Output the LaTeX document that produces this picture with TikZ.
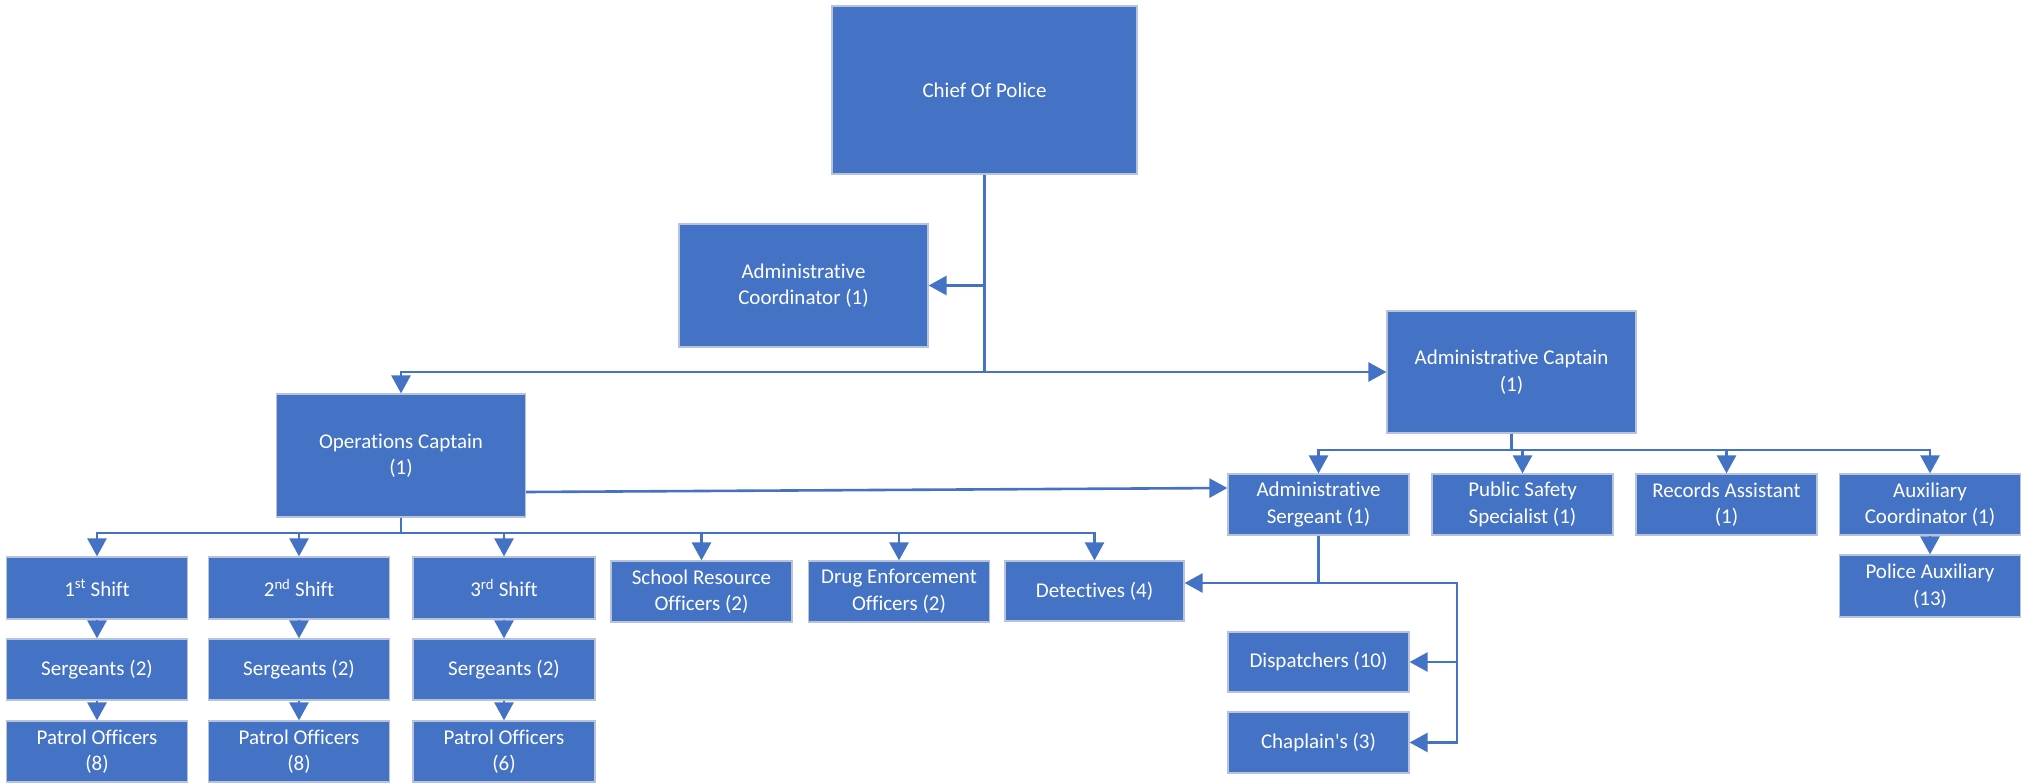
\documentclass[tikz,border=0pt]{standalone}
\usepackage{fontspec}
\setmainfont{Carlito}[Ligatures={TeXOff,NoCommon}]
\usetikzlibrary{arrows.meta,calc}
\definecolor{boxblue}{HTML}{4472C4}
\definecolor{boxedge}{HTML}{B7C3DA}

\begin{document}
\begin{tikzpicture}[x=1pt,y=-1pt,
  box/.style={fill=boxblue,draw=boxedge,line width=1.2pt,text=white,
    align=center,inner sep=0pt,font=\fontsize{21}{26.5}\selectfont},
  wh/.style 2 args={minimum width=#1pt,minimum height=#2pt},
  link/.style={draw=boxblue,line width=2.6pt,
    -{Triangle[length=18pt,width=19pt]}}]

\useasboundingbox (0,0) rectangle (2025,783);

% top levels
\node[box,wh={305}{168}] (chief)    at (984.5,90)   {Chief Of Police};
\node[box,wh={249}{123}] (admcoord) at (803.5,285.5){Administrative\\Coordinator (1)};
\node[box,wh={249}{122}] (admcap)   at (1511.5,372) {Administrative Captain\\(1)};
\node[box,wh={249}{123}] (ops)      at (401,455.5)  {Operations Captain\\(1)};

% operations branch
\node[box,wh={181}{62}] (s1) at (97,588)  {1\textsuperscript{st} Shift};
\node[box,wh={181}{62}] (s2) at (299,588) {2\textsuperscript{nd} Shift};
\node[box,wh={182}{62}] (s3) at (504,588) {3\textsuperscript{rd} Shift};
\node[box,wh={181}{61}] (g1) at (97,669.5)  {Sergeants (2)};
\node[box,wh={181}{61}] (g2) at (299,669.5) {Sergeants (2)};
\node[box,wh={182}{61}] (g3) at (504,669.5) {Sergeants (2)};
\node[box,wh={181}{61}] (p1) at (97,751.5)  {Patrol Officers\\(8)};
\node[box,wh={181}{61}] (p2) at (299,751.5) {Patrol Officers\\(8)};
\node[box,wh={182}{61}] (p3) at (504,751.5) {Patrol Officers\\(6)};
\node[box,wh={181}{61}] (school) at (701.5,591.5) {School Resource\\Officers (2)};
\node[box,wh={181}{61}] (drug)   at (899,591.5)   {Drug Enforcement\\Officers (2)};
\node[box,wh={179}{60}] (det)    at (1094.5,591)  {Detectives (4)};

% administrative branch
\node[box,wh={181}{61}] (admsgt) at (1318.5,504.5) {Administrative\\Sergeant (1)};
\node[box,wh={181}{61}] (pubsaf) at (1522.5,504.5) {Public Safety\\Specialist (1)};
\node[box,wh={181}{61}] (rec)    at (1726.5,504.5) {Records Assistant\\(1)};
\node[box,wh={181}{61}] (aux)    at (1930,504.5)   {Auxiliary\\Coordinator (1)};
\node[box,wh={181}{62}] (paux)   at (1930,586)     {Police Auxiliary\\(13)};
\node[box,wh={181}{60}] (disp)   at (1318.5,662)   {Dispatchers (10)};
\node[box,wh={181}{61}] (chap)   at (1318.5,742.5) {Chaplain's (3)};

% chief of police connectors
\draw[link] (chief.south) |- (admcap.west);
\draw[link] (chief.south |- admcap.west) -| (ops.north);
\draw[link] (chief.south |- admcoord.east) -- (admcoord.east);

% operations captain connectors
\draw[link] ([yshift=-36.5pt]ops.east) -- ([yshift=16.5pt]admsgt.west);
\coordinate (opsbus) at (401,533);
\foreach \t in {s1,s2,s3,school,drug,det}
  \draw[link] (ops.south) -- (opsbus) -| (\t.north);
\draw[link] (s1.south) -- (g1.north);
\draw[link] (g1.south) -- (p1.north);
\draw[link] (s2.south) -- (g2.north);
\draw[link] (g2.south) -- (p2.north);
\draw[link] (s3.south) -- (g3.north);
\draw[link] (g3.south) -- (p3.north);

% administrative captain connectors
\coordinate (capbus) at (1511.5,450);
\foreach \t in {admsgt,pubsaf,rec,aux}
  \draw[link] (admcap.south) -- (capbus) -| (\t.north);
\draw[link] (aux.south) -- (paux.north);

% administrative sergeant connectors
\coordinate (sgtjoint) at (1318.5,583);
\coordinate (sgtturn) at (1457,583);
\draw[link] (admsgt.south) -- (sgtjoint) -- (det.east |- sgtjoint);
\draw[link] (sgtjoint) -- (sgtturn) |- (disp.east);
\draw[link] (sgtturn) |- (chap.east);
\end{tikzpicture}
\end{document}
